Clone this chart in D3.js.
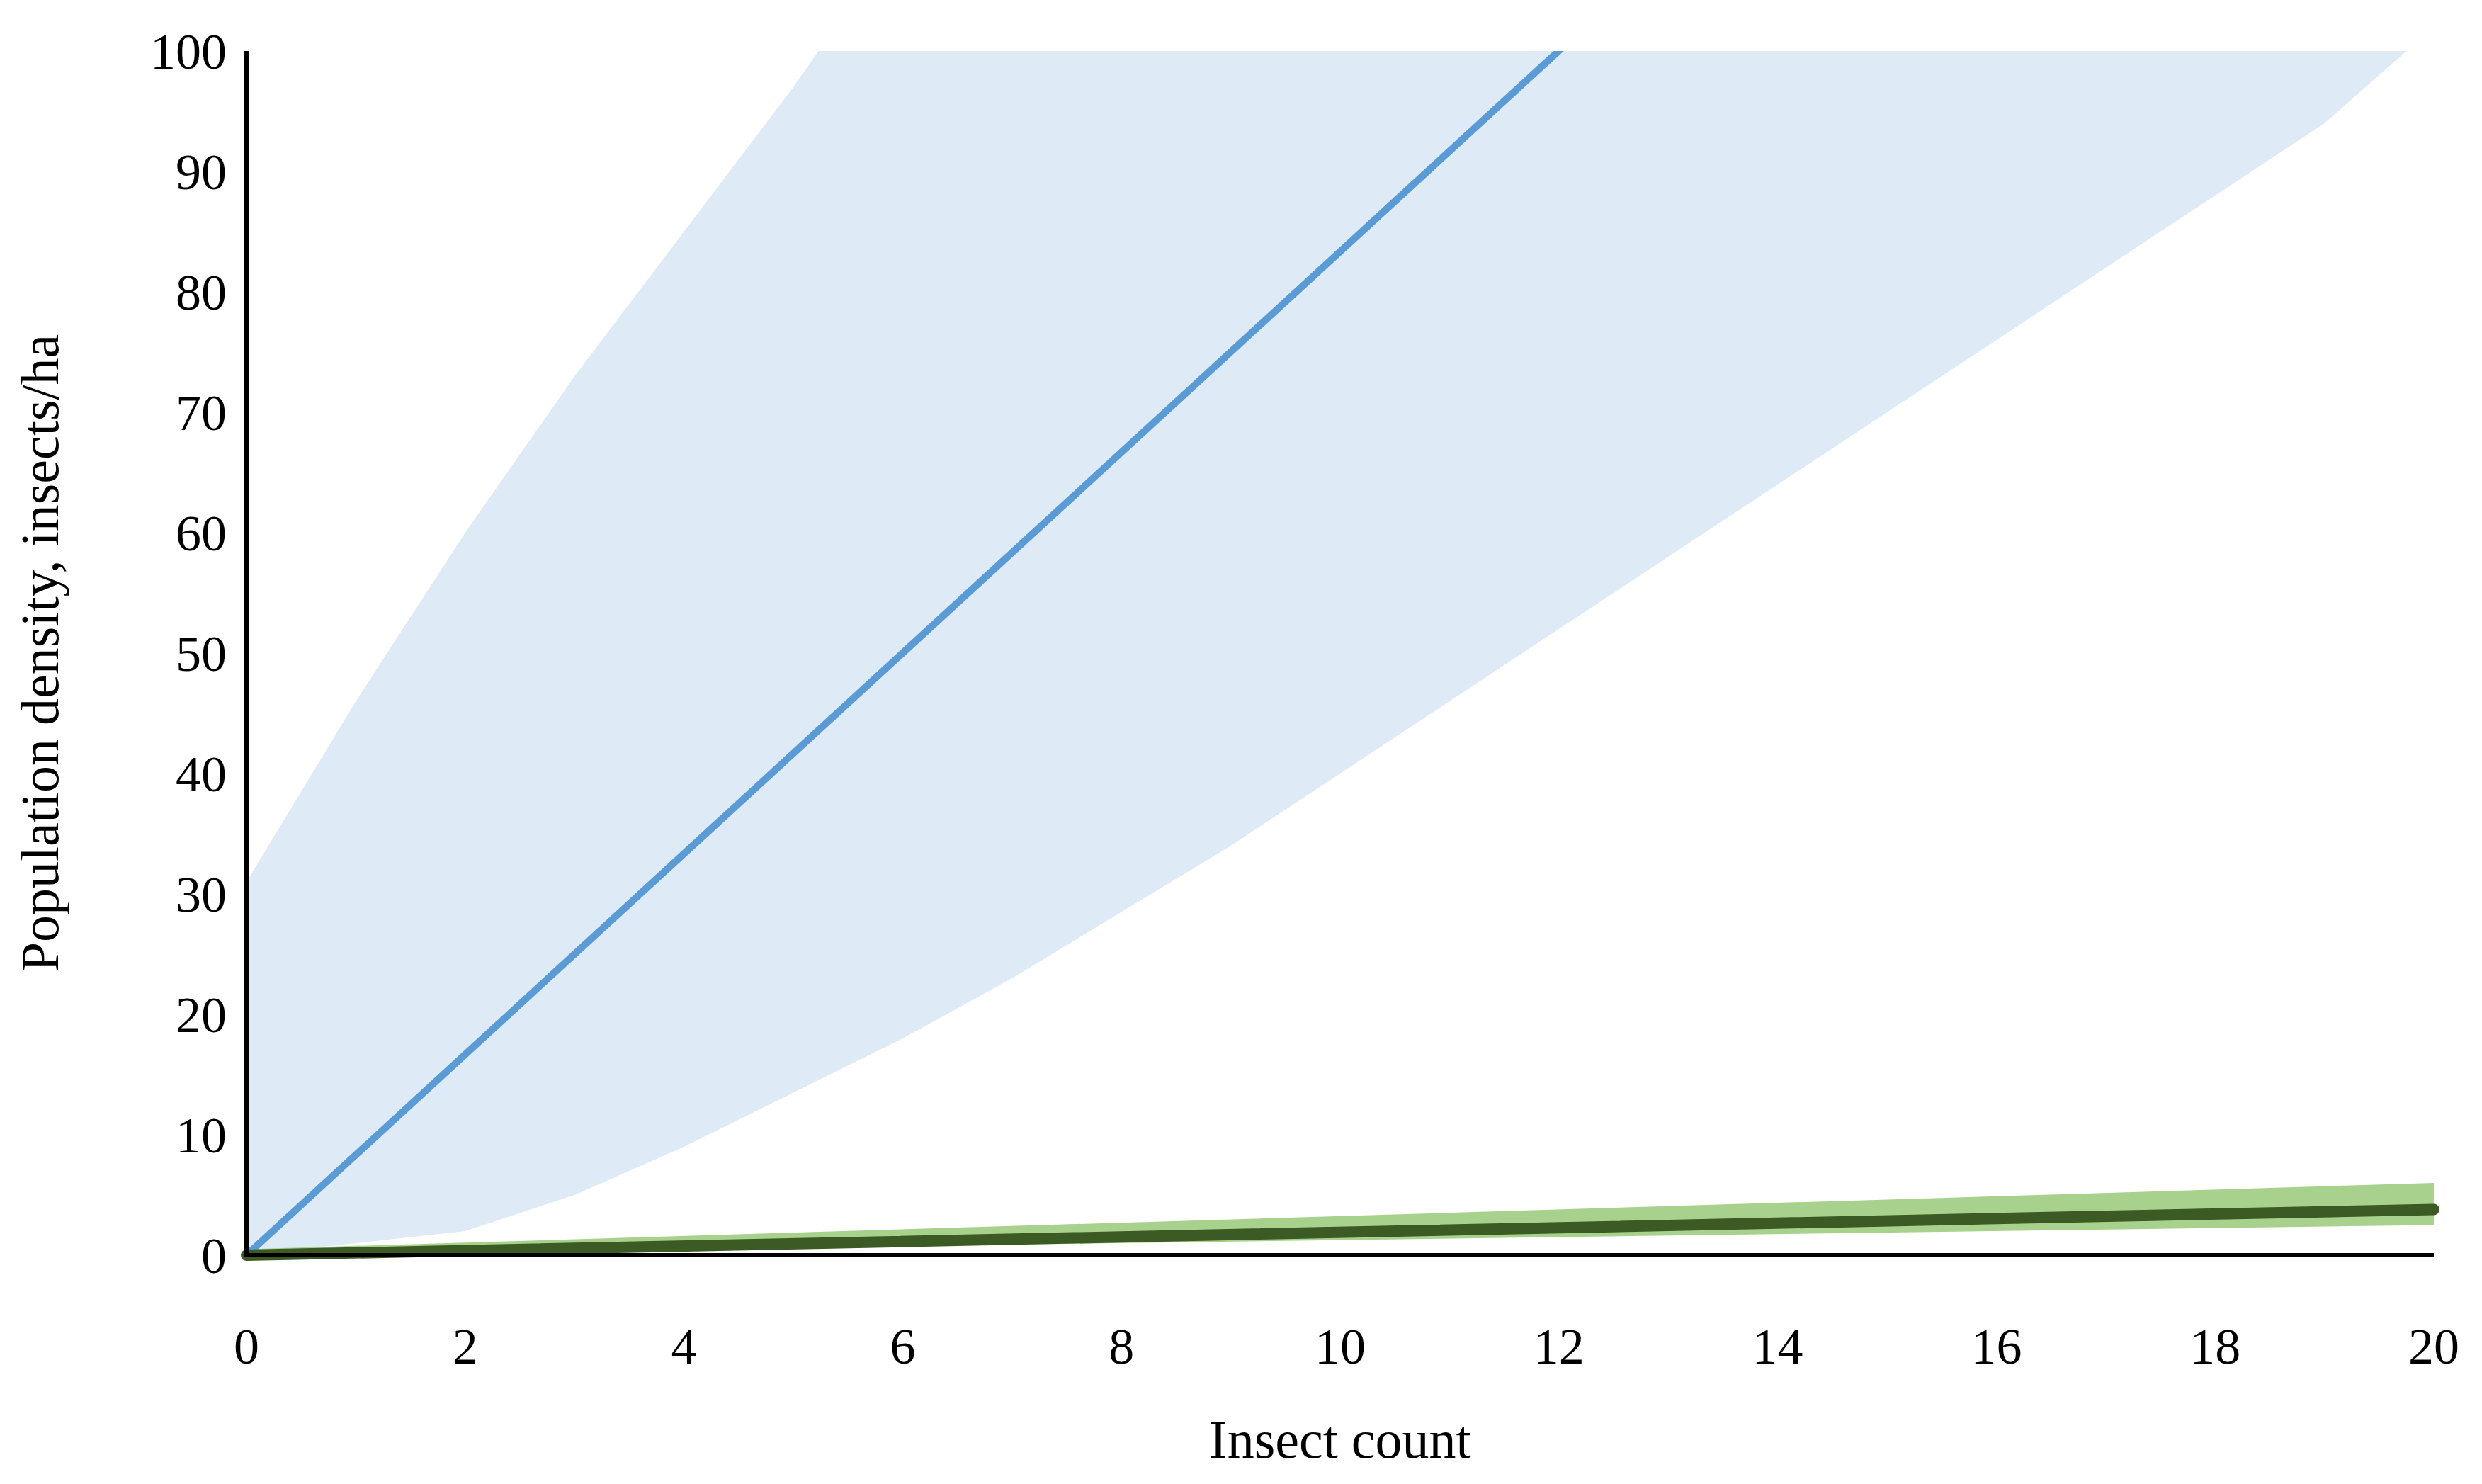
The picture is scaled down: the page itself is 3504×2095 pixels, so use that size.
<!DOCTYPE html>
<html>
<head>
<meta charset="utf-8">
<script src="https://cdn.jsdelivr.net/npm/d3@7"></script>
<style>
  body { margin: 0; background: #fff; }
  text { font-family: "Liberation Serif", "DejaVu Serif", serif; fill: #000; }
</style>
</head>
<body>
<svg id="chart" width="3504" height="2095"></svg>
<script>
"use strict";

var xTicks = [0, 2, 4, 6, 8, 10, 12, 14, 16, 18, 20];
var yTicks = [0, 10, 20, 30, 40, 50, 60, 70, 80, 90, 100];

// blue model and its confidence band
var blueX = [0, 20];
var blueY = [0, 166.7];
var blueBandX = [0, 1, 2, 3, 4, 5, 6, 7, 8, 9, 10, 11, 12, 13, 14, 15, 16, 17, 18, 19, 20];
var blueUpper = [31, 46, 60, 73, 85, 97, 110, 120, 130, 140, 150, 160, 170, 180, 190, 200, 210, 220, 230, 240, 250];
var blueLower = [0, 1, 2, 5, 9, 13.5, 18, 23, 28.5, 34, 40, 46, 52, 58, 64, 70, 76, 82, 88, 94, 102];

// green model and its band
var greenX = [0, 20];
var greenY = [0, 3.8];
var greenUpper = [0.5, 6];
var greenLower = [0, 2.5];

var svg = d3.select("#chart");
var plotL = 348, plotR = 3436, plotT = 72, plotB = 1772;

var x = d3.scaleLinear().domain([0, 20]).range([plotL, plotR]);
var y = d3.scaleLinear().domain([0, 100]).range([plotB, plotT]);

svg.append("clipPath").attr("id", "plot")
  .append("rect").attr("x", plotL).attr("y", plotT)
  .attr("width", plotR - plotL).attr("height", plotB - plotT);

var g = svg.append("g").attr("clip-path", "url(#plot)");

var blueBand = blueBandX.map(function (d, i) { return [d, blueLower[i], blueUpper[i]]; });
g.append("path")
  .attr("d", d3.area().x(function (d) { return x(d[0]); })
    .y0(function (d) { return y(d[1]); }).y1(function (d) { return y(d[2]); })(blueBand))
  .attr("fill", "#deeaf6");

var greenBand = greenX.map(function (d, i) { return [d, greenLower[i], greenUpper[i]]; });
g.append("path")
  .attr("d", d3.area().x(function (d) { return x(d[0]); })
    .y0(function (d) { return y(d[1]); }).y1(function (d) { return y(d[2]); })(greenBand))
  .attr("fill", "#a9d18e");

var line = d3.line().x(function (d) { return x(d[0]); }).y(function (d) { return y(d[1]); });

g.append("path")
  .attr("d", line(blueX.map(function (d, i) { return [d, blueY[i]]; })))
  .attr("stroke", "#5b9bd5").attr("stroke-width", 10).attr("fill", "none");

svg.append("path")
  .attr("d", line(greenX.map(function (d, i) { return [d, greenY[i]]; })))
  .attr("stroke", "#3b5a24").attr("stroke-width", 16).attr("fill", "none")
  .attr("stroke-linecap", "round");

// axes
svg.append("line").attr("x1", plotL).attr("x2", plotL).attr("y1", plotT).attr("y2", plotB + 3)
  .attr("stroke", "#000").attr("stroke-width", 6);
svg.append("line").attr("x1", plotL - 3).attr("x2", plotR).attr("y1", plotB).attr("y2", plotB)
  .attr("stroke", "#000").attr("stroke-width", 6);

svg.selectAll(".ylab").data(yTicks).enter().append("text")
  .attr("x", plotL - 28).attr("y", function (d) { return y(d); })
  .attr("dy", "0.35em").attr("text-anchor", "end")
  .attr("font-size", 72).text(function (d) { return d; });

svg.selectAll(".xlab").data(xTicks).enter().append("text")
  .attr("x", function (d) { return x(d); }).attr("y", 1925)
  .attr("text-anchor", "middle")
  .attr("font-size", 72).text(function (d) { return d; });

svg.append("text").attr("x", (plotL + plotR) / 2).attr("y", 2058)
  .attr("text-anchor", "middle").attr("font-size", 76).text("Insect count");

svg.append("text")
  .attr("transform", "translate(82," + (plotT + plotB) / 2 + ") rotate(-90)")
  .attr("text-anchor", "middle").attr("font-size", 76)
  .text("Population density, insects/ha");
</script>
</body>
</html>
